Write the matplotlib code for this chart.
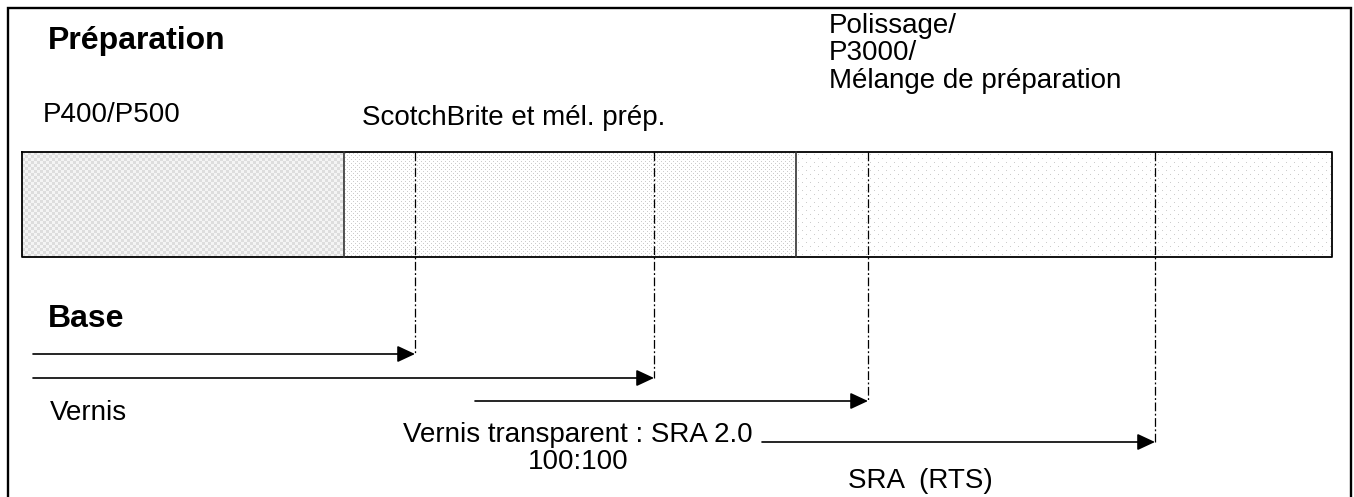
import numpy as np
import matplotlib
matplotlib.use("Agg")
import matplotlib.pyplot as plt

plt.rcParams["font.family"] = ["Liberation Sans", "DejaVu Sans"]

W, H = 1354, 497

# diagram layout (pixel units of the page)
bar_edges = [22, 344, 796, 1332]
bar_top, bar_bottom = 152, 257
stage_labels = ["P400/P500", "ScotchBrite et mél. prép.",
                "Polissage/\nP3000/\nMélange de préparation"]
stage_label_x = [43, 362, 829]
stage_label_y = [122, 125, 88]

arrow_start = [33, 33, 475, 762]
arrow_end = [415, 654, 868, 1155]
arrow_y = [354, 378, 401, 442]

coat_labels = ["Vernis", "Vernis transparent : SRA 2.0\n100:100", "SRA  (RTS)"]
coat_x = [50, 578, 848]
coat_y = [420, 469, 488]
coat_ha = ["left", "center", "left"]

fig = plt.figure(figsize=(W / 100, H / 100), dpi=100)
ax = fig.add_axes([0, 0, 1, 1])
ax.set_xlim(0, W)
ax.set_ylim(H, 0)
ax.axis("off")

# outer frame (bottom edge is cut off)
ax.plot([8, 8, 1351, 1351], [H + 5, 8, 8, H + 5], color="k", lw=1.7, solid_joinstyle="miter")


def texture(kind, w, h):
    yy, xx = np.mgrid[0:h, 0:w]
    img = np.ones((h, w))
    if kind == "checker":
        img = np.where(((xx // 3) + (yy // 3)) % 2 == 0, 0.87, 0.96)
    elif kind == "fine":
        img[(yy % 4 == 1) & (xx % 4 == 1)] = 0.80
        img[(yy % 4 == 3) & (xx % 4 == 3)] = 0.80
    else:
        img[(yy % 8 == 2) & (xx % 8 == 2)] = 0.80
        img[(yy % 8 == 6) & (xx % 8 == 6)] = 0.80
    return np.dstack([img] * 3)


kinds = ["checker", "fine", "sparse"]
for i, k in enumerate(kinds):
    x0, x1 = bar_edges[i], bar_edges[i + 1]
    tex = texture(k, x1 - x0, bar_bottom - bar_top)
    ax.imshow(tex, extent=(x0, x1, bar_bottom, bar_top), interpolation="nearest",
              aspect="auto", zorder=1)
ax.set_xlim(0, W)
ax.set_ylim(H, 0)

# bar outline and dividers
ax.plot([bar_edges[0], bar_edges[-1], bar_edges[-1], bar_edges[0], bar_edges[0]],
        [bar_top, bar_top, bar_bottom, bar_bottom, bar_top], color="k", lw=1.3, zorder=3)
for x in bar_edges[1:-1]:
    ax.plot([x, x], [bar_top, bar_bottom], color="#333333", lw=1.2, zorder=3)

# vertical dash-dot guides
for x, y in zip(arrow_end, arrow_y):
    ax.plot([x, x], [bar_top, y], color="k", lw=0.9, linestyle=(0, (7, 2, 1.5, 2)), zorder=4)

# arrows
for x0, x1, y in zip(arrow_start, arrow_end, arrow_y):
    ax.annotate("", xy=(x1, y), xytext=(x0, y),
                arrowprops=dict(arrowstyle="-|>,head_length=0.6,head_width=0.28",
                                mutation_scale=18, color="k", lw=1.2,
                                shrinkA=0, shrinkB=0))

# headings
ax.text(48, 49, "Préparation", fontsize=23, fontweight="bold", va="baseline")
ax.text(48, 327, "Base", fontsize=23, fontweight="bold", va="baseline")

for t, x, y in zip(stage_labels, stage_label_x, stage_label_y):
    ax.text(x, y, t, fontsize=20, va="baseline", ha="left", linespacing=1.08)

for t, x, y, ha in zip(coat_labels, coat_x, coat_y, coat_ha):
    ax.text(x, y, t, fontsize=20, va="baseline", ha=ha, multialignment="center",
            linespacing=1.05)

fig.savefig("out.png", dpi=100)
